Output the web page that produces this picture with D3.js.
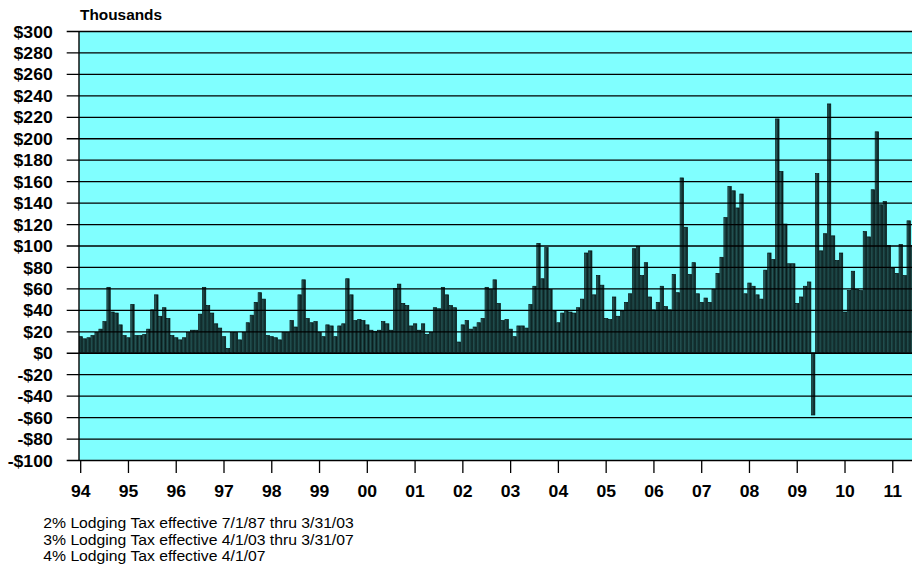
<!DOCTYPE html>
<html>
<head>
<meta charset="utf-8">
<script src="https://cdn.jsdelivr.net/npm/d3@7"></script>
<style>
  html, body { margin: 0; padding: 0; background: #fff; }
  svg { display: block; font-family: "Liberation Sans", Arial, Helvetica, sans-serif; }
</style>
</head>
<body>
<svg id="chart" width="912" height="568"></svg>
<script>
// Monthly lodging tax receipts, in thousands of dollars, Jan 1994 onward
const receipts = [
  15, 13, 14, 16, 19, 22, 29, 61, 38, 37, 26, 16,      // 1994
  14, 45, 16, 16, 17, 22, 40, 54, 34, 42, 32, 16,      // 1995
  14, 12, 14, 19, 21, 21, 36, 61, 44, 37, 27, 23,      // 1996
  15, 4, 19, 19, 12, 19, 28, 35, 47, 56, 50, 16,       // 1997
  15, 14, 12, 19, 19, 30, 24, 54, 68, 32, 28, 29,      // 1998
  19, 15, 26, 25, 15, 25, 27, 69, 54, 30, 31, 30,      // 1999
  26, 21, 20, 21, 29, 27, 21, 60, 64, 46, 44, 25,      // 2000
  27, 21, 27, 17, 19, 42, 41, 61, 54, 44, 42, 10,      // 2001
  26, 30, 22, 24, 28, 32, 61, 59, 68, 46, 30, 31,      // 2002
  22, 15, 25, 25, 23, 45, 62, 102, 69, 98, 59, 39,     // 2003
  28, 37, 39, 38, 37, 42, 50, 93, 95, 54, 72, 63,      // 2004
  32, 31, 52, 34, 39, 47, 55, 97, 99, 72, 84, 52,      // 2005
  40, 47, 62, 43, 40, 73, 56, 163, 117, 73, 84, 55,    // 2006
  47, 51, 47, 59, 74, 89, 126, 155, 151, 135, 148, 55, // 2007
  65, 62, 54, 50, 77, 93, 87, 218, 169, 120, 83, 83,   // 2008
  46, 52, 62, 66, -58, 167, 95, 111, 232, 109, 86, 93, // 2009
  38, 58, 76, 59, 58, 113, 108, 152, 206, 138, 141, 100, // 2010
  79, 74, 101, 72, 123, 100                            // 2011
];

const yearLabels = ["94", "95", "96", "97", "98", "99", "00", "01", "02",
                    "03", "04", "05", "06", "07", "08", "09", "10", "11"];

const yTicks = [-100, -80, -60, -40, -20, 0, 20, 40, 60, 80, 100,
                120, 140, 160, 180, 200, 220, 240, 260, 280, 300];

const unitLabel = "Thousands";

const notes = [
  "2% Lodging Tax effective 7/1/87 thru 3/31/03",
  "3% Lodging Tax effective 4/1/03 thru 3/31/07",
  "4% Lodging Tax effective 4/1/07"
];

const W = 912, H = 568;
const plot = { left: 79, top: 31, bottom: 460 };
const monthStep = 3.978;
const tickStart = 66.7;     // gridlines run out past the axis as tick marks
const widen = 1.1;          // horizontal stretch of the lettering

const svg = d3.select("#chart");
const months = d3.range(receipts.length);

const x = d3.scaleBand()
  .domain(months)
  .range([plot.left, plot.left + monthStep * months.length])
  .paddingInner(0.15)
  .paddingOuter(0);

const y = d3.scaleLinear()
  .domain([yTicks[0], yTicks[yTicks.length - 1]])
  .range([plot.bottom, plot.top]);

// Plot background
svg.append("rect")
  .attr("x", plot.left)
  .attr("y", y(yTicks[yTicks.length - 1]))
  .attr("width", W - plot.left)
  .attr("height", y(yTicks[0]) - y(yTicks[yTicks.length - 1]))
  .attr("fill", "#80ffff");

// Bar shading
const defs = svg.append("defs");
const grad = defs.append("linearGradient")
  .attr("id", "barFill")
  .attr("x1", "0").attr("y1", "0").attr("x2", "1").attr("y2", "0");
grad.append("stop").attr("offset", "0").attr("stop-color", "#3f8888");
grad.append("stop").attr("offset", "0.35").attr("stop-color", "#1a4343");
grad.append("stop").attr("offset", "1").attr("stop-color", "#0a1d1d");

defs.append("clipPath").attr("id", "plotClip")
  .append("rect")
  .attr("x", plot.left).attr("y", 0)
  .attr("width", W - plot.left).attr("height", H);

// Bars
svg.append("g")
  .attr("clip-path", "url(#plotClip)")
  .selectAll("rect")
  .data(receipts)
  .join("rect")
  .attr("x", (d, i) => x(i))
  .attr("y", d => y(Math.max(0, d)))
  .attr("width", x.bandwidth())
  .attr("height", d => Math.abs(y(d) - y(0)))
  .attr("fill", "url(#barFill)")
  .attr("stroke", "#051212")
  .attr("stroke-width", 0.7);

// Horizontal gridlines (also the left tick marks)
svg.append("g")
  .attr("transform", `translate(${W},0)`)
  .call(d3.axisLeft(y).tickValues(yTicks).tickSize(W - tickStart).tickFormat(""))
  .call(g => g.select(".domain").remove())
  .selectAll("line")
  .attr("stroke", "#000")
  .attr("stroke-width", 1.3);

// Y labels
const fmtMoney = v => (v < 0 ? "-$" : "$") + Math.abs(v);
const labelPad = 14;
svg.append("g")
  .attr("transform", `translate(${tickStart},0)`)
  .call(d3.axisLeft(y).tickValues(yTicks).tickSize(0).tickPadding(labelPad).tickFormat(fmtMoney))
  .call(g => g.select(".domain").remove())
  .selectAll("text")
  .attr("x", -labelPad / widen)
  .attr("dy", "0.38em")
  .attr("transform", `scale(${widen},1)`)
  .attr("fill", "#000")
  .attr("font-size", 16)
  .attr("font-weight", "bold")
  .attr("font-family", "Liberation Sans, Arial, sans-serif");

// Vertical axis line
svg.append("line")
  .attr("x1", plot.left).attr("x2", plot.left)
  .attr("y1", y(yTicks[yTicks.length - 1])).attr("y2", y(yTicks[0]))
  .attr("stroke", "#000")
  .attr("stroke-width", 1.4);

// Year axis: ticks at each January
const xAxis = svg.append("g")
  .attr("transform", `translate(0,${plot.bottom})`)
  .call(d3.axisBottom(x)
    .tickValues(months.filter(i => i % 12 === 0))
    .tickFormat(i => yearLabels[i / 12])
    .tickSize(13)
    .tickPadding(12.5))
  .call(g => g.select(".domain").remove());
xAxis.selectAll("line").attr("stroke", "#000").attr("stroke-width", 1.3);
xAxis.selectAll("text")
  .attr("transform", `scale(${widen},1)`)
  .attr("fill", "#000")
  .attr("font-size", 16)
  .attr("font-weight", "bold")
  .attr("font-family", "Liberation Sans, Arial, sans-serif");

// Unit caption
svg.append("text")
  .attr("transform", `translate(80,20) scale(${widen},1)`)
  .attr("font-size", 14)
  .attr("font-weight", "bold")
  .attr("fill", "#000")
  .text(unitLabel);

// Footnotes
svg.append("g")
  .selectAll("text")
  .data(notes)
  .join("text")
  .attr("transform", (d, i) => `translate(43.3,${528 + i * 16.7}) scale(${widen},1)`)
  .attr("font-size", 14.3)
  .attr("fill", "#000")
  .text(d => d);
</script>
</body>
</html>
